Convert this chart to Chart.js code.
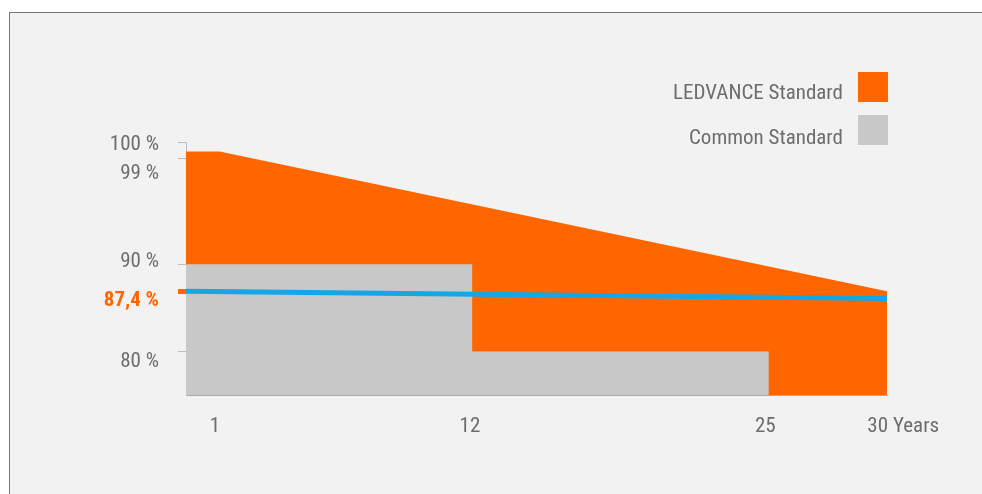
<!DOCTYPE html>
<html>
<head>
<meta charset="utf-8">
<script src="https://cdn.jsdelivr.net/npm/chart.js@4/dist/chart.umd.min.js"></script>
<style>
  html, body { margin: 0; padding: 0; background: #fff; }
  body { width: 982px; height: 494px; position: relative; overflow: hidden; }
  #frame { position: absolute; left: 9px; top: 12px; width: 990px; height: 500px; border: 1px solid #777; background: #f2f2f2; }
  #chart { position: absolute; left: 0; top: 0; }
  .leg { position: absolute; font-family: 'Liberation Sans Narrow', 'Roboto Condensed', Roboto, sans-serif; font-size: 21px; color: #6d6d6d; }
  .leg span.t { position: absolute; right: 0; white-space: nowrap; }
  .leg span.b { position: absolute; width: 30px; height: 30px; }
</style>
</head>
<body>
<div id="frame"></div>
<canvas id="chart" width="982" height="494"></canvas>
<div id="legend"></div>
<script>
// values (y in the chart's drawn units, not to scale above 90 %)
const ledvanceYears = [-0.25, 1.2, 30];
const ledvancePower = [102.9, 102.9, 86.9];
const commonYears = [-0.25, 12.1, 24.9];
const commonPower = [90, 80, 80];
const markerYears = [-0.25, 30];
const markerPower = [86.9, 86.05];

const xTickValues = [1, 12, 24.75, 30.7];
const xTickLabels = ['1', '12', '25', '30 Years'];
const yMarkValues = [104, 102.15, 90, 86.9, 80];
const yLabelValues = [103.7, 100.4, 90.3, 85.8, 78.85];
const yTickLabels = ['100 %', '99 %', '90 %', '87,4 %', '80 %'];

const seriesNames = ['LEDVANCE Standard', 'Common Standard'];
const seriesColors = ['#ff6600', '#c8c8c8'];

const FONT = "'Liberation Sans Narrow', 'Roboto Condensed', Roboto, sans-serif";
const GREY_TEXT = '#6d6d6d';

function pts(xs, ys) {
  return xs.map((x, i) => ({ x: x, y: ys[i] }));
}

// legend as html, box on the right of the text
const legend = document.getElementById('legend');
seriesNames.forEach(function(name, i) {
  const row = document.createElement('div');
  row.className = 'leg';
  row.style.left = '0px';
  row.style.top = (72 + i * 43) + 'px';
  row.style.width = '888px';
  row.style.height = '30px';
  row.innerHTML = '<span class="t" style="right:45px;top:' + (8 + i * 2) + 'px">' + name + '</span>' +
    '<span class="b" style="right:0;top:0;background:' + seriesColors[i] + '"></span>';
  legend.appendChild(row);
});

new Chart(document.getElementById('chart'), {
  type: 'line',
  data: {
    datasets: [
      {
        label: 'Guaranteed power',
        data: pts(markerYears, markerPower),
        borderColor: '#14a6e6',
        borderWidth: 5,
        pointRadius: 0,
        fill: false
      },
      {
        label: seriesNames[1],
        data: pts(commonYears, commonPower),
        stepped: 'before',
        borderWidth: 0,
        pointRadius: 0,
        backgroundColor: seriesColors[1],
        fill: 'start'
      },
      {
        label: seriesNames[0],
        data: pts(ledvanceYears, ledvancePower),
        borderWidth: 0,
        pointRadius: 0,
        backgroundColor: seriesColors[0],
        fill: 'start'
      }
    ]
  },
  options: {
    responsive: false,
    animation: false,
    layout: { padding: { left: 0, top: 142, right: 95, bottom: 0 } },
    plugins: { legend: { display: false }, tooltip: { enabled: false } },
    scales: {
      x: {
        type: 'linear',
        min: -0.25,
        max: 30,
        afterBuildTicks: s => { s.ticks = xTickValues.map(v => ({ value: v })); },
        afterFit: s => { s.height = 99; },
        ticks: {
          callback: (v, i) => xTickLabels[i],
          color: GREY_TEXT,
          font: { family: FONT, size: 21 },
          padding: 19,
          maxRotation: 0,
          autoSkip: false
        },
        grid: { display: false, drawTicks: false },
        border: { display: true, color: '#aaaaaa', width: 1 }
      },
      y: {
        type: 'linear',
        position: 'left',
        weight: 0,
        min: 75,
        max: 104,
        afterBuildTicks: s => { s.ticks = yMarkValues.map(v => ({ value: v })); },
        afterFit: s => { s.width = 8; },
        ticks: { display: false },
        grid: {
          drawOnChartArea: false,
          drawTicks: true,
          tickLength: 8,
          color: c => c.index === 3 ? '#ff6600' : '#bdbdbd',
          lineWidth: c => c.index === 3 ? 5 : 1
        },
        border: { display: true, color: '#bdbdbd', width: 1 }
      },
      yl: {
        type: 'linear',
        position: 'left',
        weight: 1,
        min: 75,
        max: 104,
        afterBuildTicks: s => { s.ticks = yLabelValues.map(v => ({ value: v })); },
        afterFit: s => { s.width = 178; },
        ticks: {
          callback: (v, i) => yTickLabels[i],
          color: c => c.index === 3 ? '#ff6600' : GREY_TEXT,
          font: c => ({ family: FONT, size: 21, weight: c.index === 3 ? 'bold' : 'normal' }),
          padding: 19,
          autoSkip: false
        },
        grid: { display: false, drawTicks: false },
        border: { display: false }
      }
    }
  }
});
</script>
</body>
</html>
